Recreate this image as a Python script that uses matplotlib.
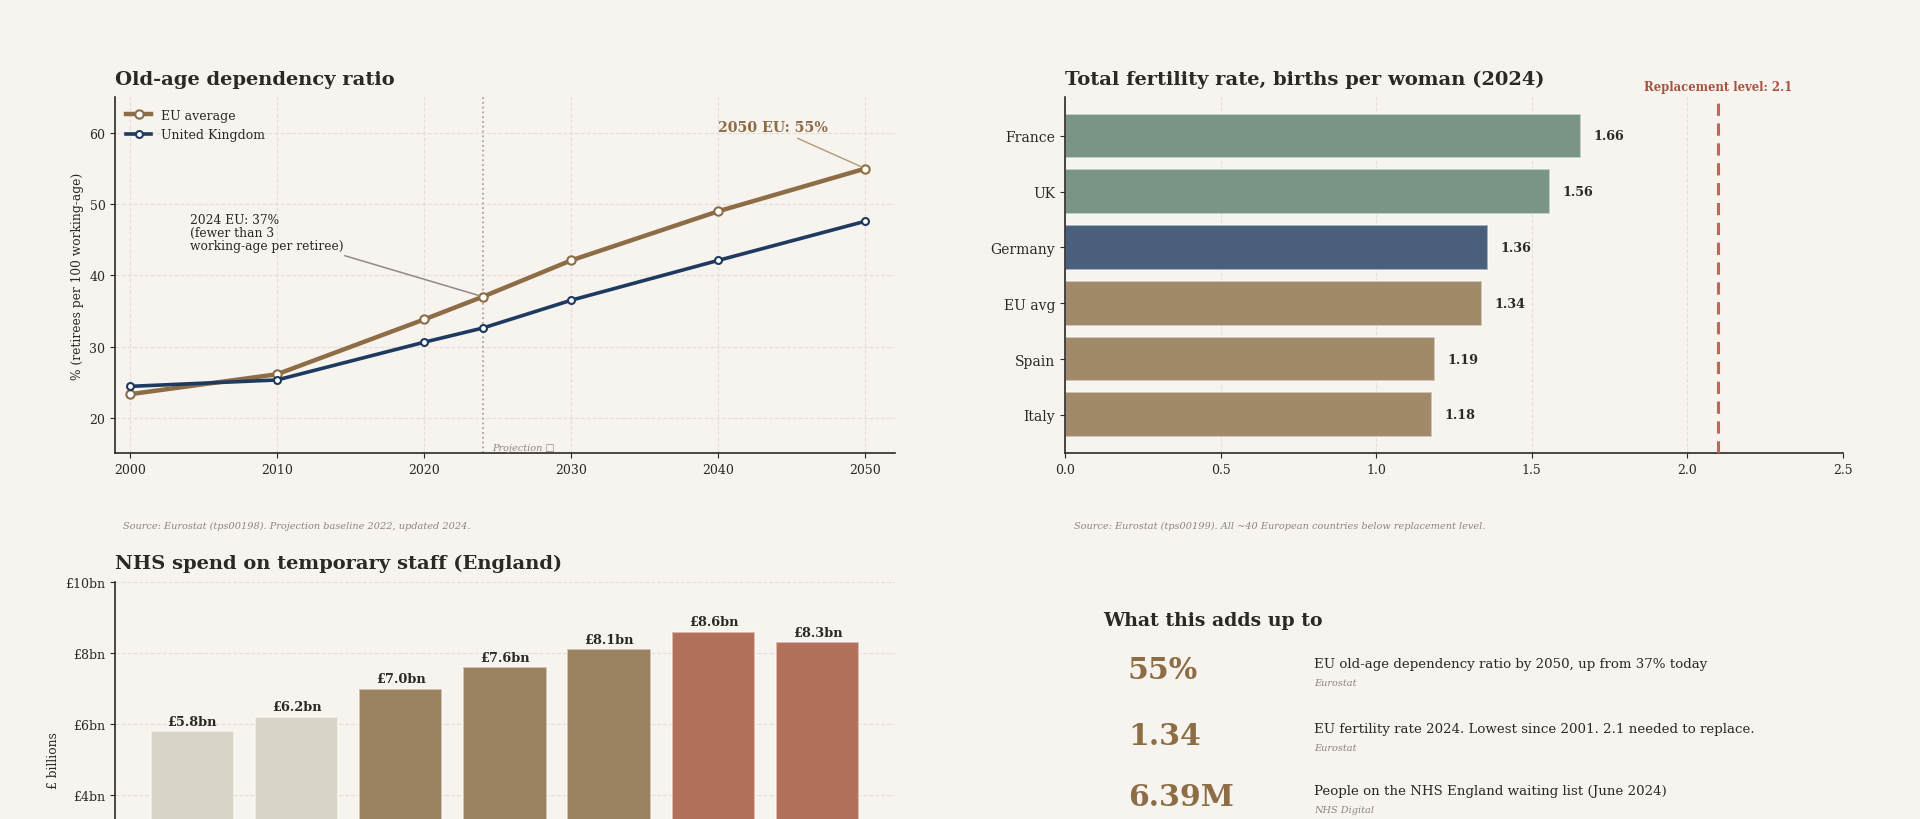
import matplotlib
matplotlib.use("Agg")
import matplotlib.pyplot as plt

# data
years = [2000, 2010, 2020, 2024, 2030, 2040, 2050]
eu_ratio = [23.3, 26.1, 33.8, 37.0, 42.1, 49.0, 55.0]
uk_ratio = [24.4, 25.3, 30.6, 32.6, 36.5, 42.1, 47.6]

countries = ["France", "UK", "Germany", "EU avg", "Spain", "Italy"]
fertility = [1.66, 1.56, 1.36, 1.34, 1.19, 1.18]

nhs_years = ["2017/18", "2018/19", "2019/20", "2020/21", "2021/22", "2022/23", "2023/24"]
nhs_spend = [5.8, 6.2, 7.0, 7.6, 8.1, 8.6, 8.3]
nhs_ticks = [4, 6, 8, 10]  # lower ticks fall below the visible area

stat_values = ["55%", "1.34", "6.39M"]
stat_texts = ["EU old-age dependency ratio by 2050, up from 37% today",
              "EU fertility rate 2024. Lowest since 2001. 2.1 needed to replace.",
              "People on the NHS England waiting list (June 2024)"]
stat_sources = ["Eurostat", "Eurostat", "NHS Digital"]

BG = "#F7F3EE"
INK = "#2B2926"
GRID = "#E4DFD8"
BROWN = "#8C6D46"
NAVY = "#1E3A5F"
GREY = "#8A8580"

plt.rcParams["font.family"] = ["DejaVu Serif", "DejaVu Sans"]
plt.rcParams["text.color"] = INK
plt.rcParams["axes.labelcolor"] = INK
plt.rcParams["xtick.color"] = INK
plt.rcParams["ytick.color"] = INK
plt.rcParams["axes.edgecolor"] = INK

TITLE = 14


def style(ax):
    ax.set_facecolor(BG)
    for s in ["top", "right"]:
        ax.spines[s].set_visible(False)
    ax.spines["left"].set_linewidth(1.2)
    ax.spines["bottom"].set_linewidth(1.2)
    ax.tick_params(labelsize=9)


def main():
    fig = plt.figure(figsize=(19.2, 8.2), dpi=100, facecolor=BG)

    # --- old-age dependency ---
    ax1 = fig.add_axes([0.060, 0.446, 0.406, 0.434])
    style(ax1)
    ax1.grid(True, color=GRID, linestyle="--", linewidth=0.8)
    ax1.set_axisbelow(True)
    ax1.plot(years, eu_ratio, color=BROWN, lw=3.2, marker="o", ms=6,
             mfc="white", mec=BROWN, mew=1.5, label="EU average", zorder=3)
    ax1.plot(years, uk_ratio, color=NAVY, lw=2.6, marker="o", ms=5,
             mfc="white", mec=NAVY, mew=1.5, label="United Kingdom", zorder=3)
    ax1.axvline(2024, color="#A9A49E", linestyle=":", lw=1.3, zorder=1)
    ax1.text(2024.6, 15.2, "Projection \u25a1", fontsize=7, style="italic",
             color=GREY, ha="left", va="bottom")
    ax1.set_xlim(1999, 2052)
    ax1.set_ylim(15, 65)
    ax1.set_xticks([2000, 2010, 2020, 2030, 2040, 2050])
    ax1.set_yticks([20, 30, 40, 50, 60])
    ax1.set_ylabel("% (retirees per 100 working-age)", fontsize=8.8)
    ax1.set_title("Old-age dependency ratio", loc="left", fontsize=TITLE,
                  fontweight="bold", pad=10)
    ax1.legend(loc="upper left", frameon=False, fontsize=9, handlelength=2,
               borderaxespad=0.5, labelspacing=0.5)
    ax1.annotate("2050 EU: 55%", xy=(2050, 55), xytext=(2040, 59.8),
                 fontsize=10.2, fontweight="bold", color=BROWN, ha="left", va="bottom",
                 arrowprops=dict(arrowstyle="-", color="#B09A78", lw=1,
                                 shrinkA=2, shrinkB=3))
    ax1.annotate("2024 EU: 37%\n(fewer than 3\nworking-age per retiree)",
                 xy=(2024, 37), xytext=(2004.1, 46), fontsize=8.8, color=INK,
                 ha="left", va="center", linespacing=1.0,
                 arrowprops=dict(arrowstyle="-", color="#8F8A84", lw=1.1,
                                 shrinkA=2, shrinkB=3))
    fig.text(0.064, 0.355, "Source: Eurostat (tps00198). Projection baseline 2022, updated 2024.",
             fontsize=7, style="italic", color=GREY)

    # --- fertility ---
    ax2 = fig.add_axes([0.5547, 0.446, 0.405, 0.434])
    style(ax2)
    ax2.grid(True, axis="x", color=GRID, linestyle="--", linewidth=0.8)
    ax2.set_axisbelow(True)
    fert_colors = ["#7A9585", "#7A9585", "#4A5F7C", "#A08A69", "#A08A69", "#A08A69"]
    ax2.barh(countries, fertility, height=0.8, color=fert_colors,
             edgecolor=(1, 1, 1, 0.5), linewidth=1.5, zorder=2)
    ax2.invert_yaxis()
    for i, v in enumerate(fertility):
        ax2.text(v + 0.04, i, f"{v:.2f}", fontsize=9.2, fontweight="bold",
                 va="center", ha="left", color=INK)
    ax2.axvline(2.1, color="#B86A55", linestyle=(0, (4, 2.5)), lw=2.2, zorder=3)
    ax2.text(2.1, 1.012, "Replacement level: 2.1", transform=ax2.get_xaxis_transform(),
             fontsize=8.4, fontweight="bold", color="#A8533F", ha="center", va="bottom")
    ax2.set_xlim(0, 2.5)
    ax2.set_xticks([0, 0.5, 1.0, 1.5, 2.0, 2.5])
    ax2.tick_params(axis="y", labelsize=10)
    ax2.set_title("Total fertility rate, births per woman (2024)", loc="left",
                  fontsize=TITLE, fontweight="bold", pad=10)
    fig.text(0.5593, 0.355, "Source: Eurostat (tps00199). All ~40 European countries below replacement level.",
             fontsize=7, style="italic", color=GREY)

    # --- NHS temporary staff ---
    ax3 = fig.add_axes([0.060, -0.144, 0.406, 0.433])
    style(ax3)
    ax3.grid(True, axis="y", color=GRID, linestyle="--", linewidth=0.8)
    ax3.set_axisbelow(True)
    nhs_colors = ["#D9D4C8", "#D9D4C8", "#9A8260", "#9A8260", "#9A8260",
                  "#B3705A", "#B3705A"]
    ax3.bar(nhs_years, nhs_spend, width=0.8, color=nhs_colors,
            edgecolor=(1, 1, 1, 0.5), linewidth=1.5, zorder=2)
    for i, v in enumerate(nhs_spend):
        ax3.text(i, v + 0.1, f"£{v:.1f}bn", fontsize=9.3, fontweight="bold",
                 ha="center", va="bottom", color=INK)
    ax3.set_ylim(0, 10)
    ax3.set_yticks(nhs_ticks)
    ax3.set_yticklabels([f"£{t}bn" for t in nhs_ticks])
    ax3.tick_params(axis="x", labelbottom=False)  # below the visible area
    ax3.set_ylabel("£ billions", fontsize=8.8)
    ax3.set_title("NHS spend on temporary staff (England)", loc="left",
                  fontsize=TITLE, fontweight="bold", pad=10)

    # --- summary panel ---
    fig.text(0.5745, 0.243, "What this adds up to", fontsize=13.6,
             fontweight="bold", color=INK, va="center")
    row_y = [0.182, 0.102, 0.027]
    for y, val, txt, src in zip(row_y, stat_values, stat_texts, stat_sources):
        fig.text(0.5875, y, val, fontsize=21.5, fontweight="bold", color=BROWN,
                 va="center")
        fig.text(0.6845, y + 0.008, txt, fontsize=9.6, color=INK, va="center")
        fig.text(0.6845, y - 0.015, src, fontsize=7, style="italic",
                 color=GREY, va="center")

    fig.savefig("out.png", dpi=100, facecolor=BG)


if __name__ == "__main__":
    main()
